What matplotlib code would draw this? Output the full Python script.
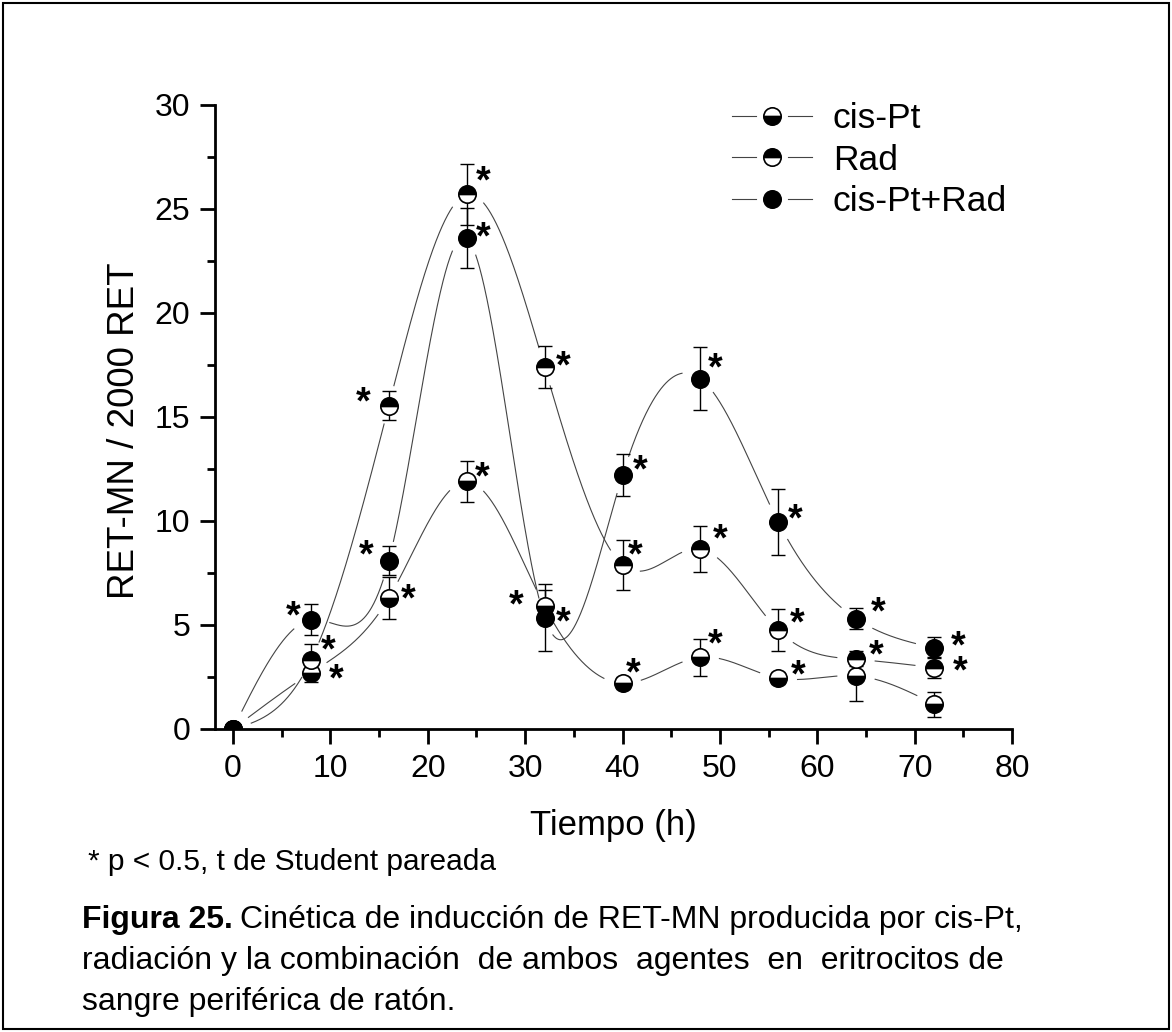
import numpy as np
import matplotlib
matplotlib.use("Agg")
import matplotlib.pyplot as plt
from matplotlib.lines import Line2D
from matplotlib.legend_handler import HandlerBase
from matplotlib.patches import Rectangle
from matplotlib.ticker import MultipleLocator

plt.rcParams['font.family'] = ['Liberation Sans', 'DejaVu Sans']

# datos
tiempo = [0, 8, 16, 24, 32, 40, 48, 56, 64, 72]
cispt = [0, 2.7, 6.3, 11.9, 5.9, 2.2, 3.45, 2.45, 2.55, 1.2]
cispt_err = [0, 0.45, 1.0, 1.0, 0.8, 0.3, 0.9, 0.3, 1.2, 0.6]
rad = [0, 3.3, 15.55, 25.7, 17.4, 7.9, 8.65, 4.75, 3.35, 2.95]
rad_err = [0, 0.8, 0.7, 1.45, 1.0, 1.2, 1.1, 1.0, 0.3, 0.5]
comb = [0, 5.25, 8.1, 23.6, 5.35, 12.2, 16.85, 9.95, 5.3, 3.9]
comb_err = [0, 0.75, 0.7, 1.45, 1.6, 1.0, 1.5, 1.6, 0.5, 0.5]

labels = ['cis-Pt', 'Rad', 'cis-Pt+Rad']
fills = ['bottom', 'top', 'full']

# posicion del asterisco respecto al marcador (px, abajo positivo); None = sin marca
star_cispt = [None, (27, 0), (21, -5), (17, -11), (-26, -8), (13, -17), (17, -20), (22, -10), None, None]
star_rad = [None, (19, -17), (-24, -10), (18, -20), (21, -8), (15, -16), (22, -17), (21, -14), (22, -11), (28, -3)]
star_comb = [None, (-16, -10), (-21, -12), (18, -8), (21, -2), (20, -12), (17, -17), (19, -10), (24, -13), (26, -8)]

LINE_C = '#444444'
MS = 12.5


def natural_spline(x, y, xs):
    x = np.asarray(x, float)
    y = np.asarray(y, float)
    n = len(x)
    h = np.diff(x)
    A = np.zeros((n, n))
    b = np.zeros(n)
    A[0, 0] = A[-1, -1] = 1
    for i in range(1, n - 1):
        A[i, i - 1] = h[i - 1]
        A[i, i] = 2 * (h[i - 1] + h[i])
        A[i, i + 1] = h[i]
        b[i] = 3 * ((y[i + 1] - y[i]) / h[i] - (y[i] - y[i - 1]) / h[i - 1])
    c = np.linalg.solve(A, b)
    bb = (y[1:] - y[:-1]) / h - h * (2 * c[:-1] + c[1:]) / 3
    d = (c[1:] - c[:-1]) / (3 * h)
    idx = np.clip(np.searchsorted(x, xs) - 1, 0, n - 2)
    dx = xs - x[idx]
    return y[idx] + bb[idx] * dx + c[idx] * dx ** 2 + d[idx] * dx ** 3


class GapHandler(HandlerBase):
    # linea - marcador - linea, con hueco alrededor del marcador
    def create_artists(self, legend, orig_handle, xdescent, ydescent, width, height, fontsize, trans):
        y = height / 2 - ydescent
        x0 = -xdescent
        x1 = x0 + width
        xc = (x0 + x1) / 2
        g = 11.5
        l1 = Line2D([x0, xc - g], [y, y], color=LINE_C, lw=0.8)
        l2 = Line2D([xc + g, x1], [y, y], color=LINE_C, lw=0.8)
        m = Line2D([xc], [y], ls='none', marker='o', ms=MS,
                   fillstyle=orig_handle.get_fillstyle(), mfc='black', mfcalt='white',
                   mec='black', mew=1.2)
        for a in (l1, l2, m):
            a.set_transform(trans)
        return [l1, l2, m]


W, H = 1172, 1032
fig = plt.figure(figsize=(W / 100, H / 100), dpi=100)
ax = fig.add_axes([215 / W, 1 - 729 / H, (1012 - 215) / W, (729 - 105) / H])
ax.set_xlim(-1.85, 80)
ax.set_ylim(0, 30)

series = [(cispt, cispt_err, star_cispt), (rad, rad_err, star_rad), (comb, comb_err, star_comb)]
handles = []
for (vals, err, stars), lab, fs in zip(series, labels, fills):
    xs = np.linspace(0, 72, 1500)
    ys = natural_spline(tiempo, vals, xs)
    # hueco alrededor de cada marcador, como en Origin
    pts = ax.transData.transform(np.column_stack([xs, ys]))
    cen = ax.transData.transform(np.column_stack([tiempo, vals]))
    dist = np.min(np.hypot(pts[:, None, 0] - cen[None, :, 0], pts[:, None, 1] - cen[None, :, 1]), axis=1)
    ys = np.where(dist < 19, np.nan, ys)
    ax.plot(xs, ys, color=LINE_C, lw=0.8, zorder=1)
    ax.errorbar(tiempo, vals, yerr=err, fmt='none', ecolor='black', elinewidth=1,
                capsize=5, capthick=1, zorder=3)
    mk, = ax.plot(tiempo, vals, ls='none', marker='o', ms=MS, fillstyle=fs, mfc='black',
                  mfcalt='white', mec='black', mew=1.2, zorder=4)
    for x, y, st in zip(tiempo, vals, stars):
        if st is None:
            continue
        # el centro del glifo * queda ~18 px sobre la linea base
        ax.annotate('*', (x, y), xytext=(st[0] - 2, -(st[1] + 18)), textcoords='offset pixels',
                    ha='center', va='baseline', fontsize=27, fontweight='bold', zorder=5)
    handles.append(mk)

ax.legend(handles, labels, handler_map={h: GapHandler() for h in handles},
          loc='upper left', bbox_to_anchor=(732 / W, 1 - 102 / H), bbox_transform=fig.transFigure,
          frameon=False, fontsize=25.5, handlelength=2.26, handletextpad=0.59, labelspacing=0.24,
          borderpad=0, borderaxespad=0)

for s in ['top', 'right']:
    ax.spines[s].set_visible(False)
for s in ['left', 'bottom']:
    ax.spines[s].set_linewidth(2)
ax.xaxis.set_major_locator(MultipleLocator(10))
ax.xaxis.set_minor_locator(MultipleLocator(5))
ax.yaxis.set_major_locator(MultipleLocator(5))
ax.yaxis.set_minor_locator(MultipleLocator(2.5))
ax.tick_params(which='major', direction='out', length=11, width=2, labelsize=23, pad=7)
ax.tick_params(which='minor', direction='out', length=6, width=2)
ax.set_xlabel('Tiempo (h)', fontsize=25, labelpad=18)
ax.set_ylabel('RET-MN / 2000 RET', fontsize=26.5)
ax.yaxis.set_label_coords(-0.092, 0.478)

fig.text(88 / W, 1 - 862 / H, '* p < 0.5, t de Student pareada', fontsize=21.5, va='center')

r = fig.canvas.get_renderer()
y1 = 1 - 920 / H
t = fig.text(82 / W, y1, 'Figura 25.', fontsize=23, fontweight='bold', va='center')
bb = t.get_window_extent(r)
fig.text((bb.x1 + 7) / W, y1, 'Cinética de inducción de RET-MN producida por cis-Pt,', fontsize=23, va='center')
fig.text(82 / W, 1 - 961 / H, 'radiación y la combinación  de ambos  agentes  en  eritrocitos de', fontsize=23, va='center')
fig.text(82 / W, 1 - 1002 / H, 'sangre periférica de ratón.', fontsize=23, va='center')

fig.patches.append(Rectangle((3 / W, 3 / H), 1 - 6 / W, 1 - 6 / H, transform=fig.transFigure,
                             fill=False, lw=1.5, ec='black'))

fig.savefig('out.png', dpi=100)
